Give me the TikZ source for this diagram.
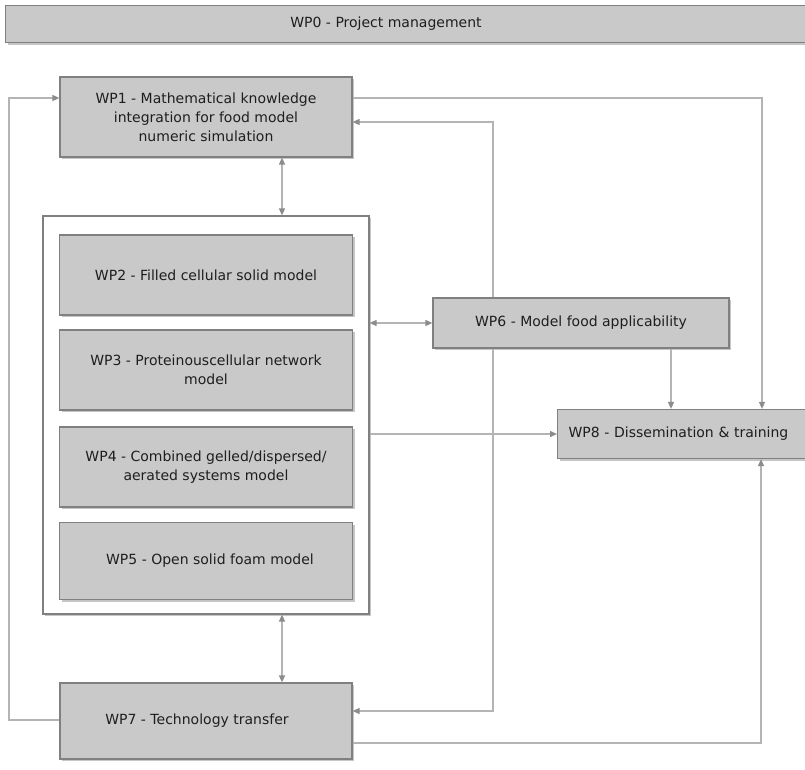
\documentclass[tikz,border=0pt]{standalone}
\usepackage{fontspec}
\setmainfont{DejaVu Sans}
\usetikzlibrary{arrows.meta,shadows,calc}
\definecolor{boxfill}{HTML}{C9C9C9}
\definecolor{boxline}{HTML}{808080}
\definecolor{lnk}{HTML}{B4B4B4}
\definecolor{tip}{HTML}{8C8C8C}
\definecolor{txt}{HTML}{1E1E1E}
\begin{document}
\begin{tikzpicture}[x=1pt,y=-1pt,
  wp/.style={draw=boxline, fill=boxfill, line width=1.2pt, text=txt, align=center,
    font=\fontsize{14}{19}\selectfont, inner sep=0pt,
    drop shadow={shadow xshift=2pt, shadow yshift=-2pt, fill=gray!45, opacity=1}},
  frame/.style={draw=boxline, fill=white, line width=1.2pt,
    drop shadow={shadow xshift=2pt, shadow yshift=-2pt, fill=gray!45, opacity=1}},
  lbl/.style={text=txt, font=\fontsize{14}{19}\selectfont, inner sep=0pt},
  conn/.style={draw=lnk, line width=1.4pt, arrows={-{Triangle[length=7pt,width=6pt,color=tip]}}},
  both/.style={draw=lnk, line width=1.4pt, arrows={{Triangle[length=7pt,width=6pt,color=tip]}-{Triangle[length=7pt,width=6pt,color=tip]}}}
]
\useasboundingbox (0,0) rectangle (805,769);
\clip (0,0) rectangle (805,769);
\fill[white] (0,0) rectangle (805,769);

% WP0
\node[wp, minimum width=830, minimum height=37, anchor=north west] (wp0) at (5,5) {};
\node[lbl] (wp0t) at (386,24) {WP0 - Project management};

% WP1
\node[wp, minimum width=292, minimum height=80] (wp1) at (206,117)
  {WP1 - Mathematical knowledge\\integration for food model\\numeric simulation};

% container
\node[frame, minimum width=326, minimum height=398] (box) at (206,415) {};
\node[wp, minimum width=293, minimum height=80, drop shadow={opacity=0}] (wp2) at (206,275) {WP2 - Filled cellular solid model};
\node[wp, minimum width=293, minimum height=80, drop shadow={opacity=0}] (wp3) at (206,370) {WP3 - Proteinouscellular network\\model};
\node[wp, minimum width=293, minimum height=80, drop shadow={opacity=0}] (wp4) at (206,467) {WP4 - Combined gelled/dispersed/\\aerated systems model};
\node[wp, minimum width=293, minimum height=77, drop shadow={opacity=0}] (wp5) at (206,561) {\hspace{8pt}WP5 - Open solid foam model};

% WP6
\node[wp, minimum width=296, minimum height=50] (wp6) at (581,323) {WP6 - Model food applicability};

% WP8
\node[wp, minimum width=280, minimum height=49, anchor=west, text width=258, align=left, inner xsep=11pt] (wp8) at (557,434) {WP8 - Dissemination \& training};

% WP7
\node[wp, minimum width=292, minimum height=76] (wp7) at (206,721) {\hspace*{-18pt}\raisebox{-7pt}{WP7 - Technology transfer}};

% helper coordinates
\coordinate (k1) at (762,98);
\coordinate (k2) at (493,122);
\coordinate (k3) at (493,711);
\coordinate (k4) at (761,743);
\coordinate (k5) at (9,720);
\coordinate (k6) at (9,98);
\coordinate (k7) at (282,0);
\coordinate (k8) at (671,0);

% connectors
\draw[both] (wp1.south -| k7) -- (box.north -| k7);
\draw[both] (box.south -| k7) -- (wp7.north -| k7);
\draw[both] (box.east |- wp6.west) -- (wp6.west);
\draw[conn] (box.east |- wp8.west) -- (wp8.west);
\draw[conn] (wp6.south -| k8) -- (wp8.north -| k8);
\draw[conn] (wp1.east |- k1) -| (wp8.north -| k1);
\draw[conn] (wp6.north -| k2) |- (wp1.east |- k2);
\draw[conn] (wp6.south -| k3) |- (wp7.east |- k3);
\draw[conn] (wp7.east |- k4) -| (wp8.south -| k4);
\draw[conn] (wp7.west |- k5) -- (k5) -- (k6) -- (wp1.west |- k6);
\end{tikzpicture}
\end{document}
